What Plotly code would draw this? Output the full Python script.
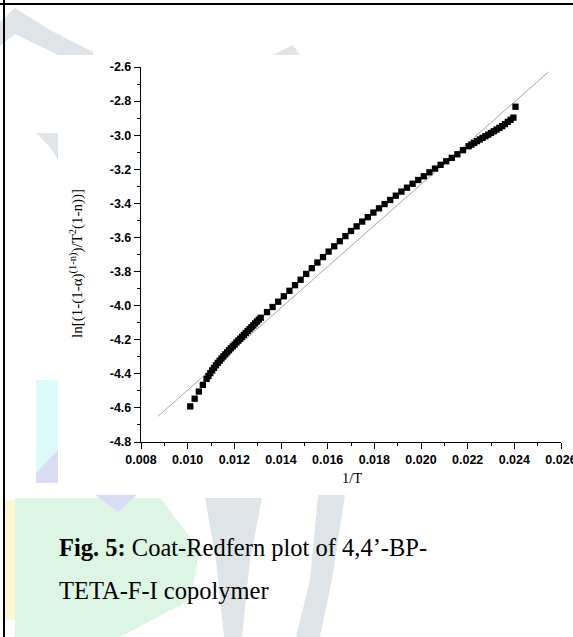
import plotly.graph_objects as go

# ---------------- data ----------------
inv_T = [
    0.01011, 0.01030, 0.01048, 0.01065, 0.01081,
    0.01089, 0.01097, 0.01105, 0.01113, 0.01121, 0.01129, 0.01137, 0.01145,
    0.01153, 0.01161, 0.01169, 0.01177, 0.01185, 0.01193, 0.01201, 0.01209,
    0.01217, 0.01225, 0.01233, 0.01241, 0.01249, 0.01257, 0.01265, 0.01273,
    0.01281, 0.01289, 0.01297, 0.01305, 0.01313,
    0.01340, 0.01364, 0.01388, 0.01412, 0.01436, 0.01460, 0.01484, 0.01508,
    0.01532, 0.01556, 0.01580, 0.01604, 0.01628, 0.01652, 0.01676, 0.01700,
    0.01724, 0.01748, 0.01772, 0.01796, 0.01820, 0.01844, 0.01868, 0.01892,
    0.01916, 0.01940, 0.01964, 0.01988, 0.02012, 0.02036, 0.02060, 0.02084,
    0.02108, 0.02132, 0.02156, 0.02180,
    0.02204, 0.02216, 0.02228, 0.02240, 0.02252, 0.02264, 0.02276, 0.02288,
    0.02300, 0.02312, 0.02324, 0.02336, 0.02348, 0.02360, 0.02372, 0.02384,
    0.02396, 0.02405,
]
ln_term = [
    -4.591, -4.546, -4.504, -4.465, -4.430,
    -4.413, -4.396, -4.380, -4.365, -4.350, -4.336, -4.323, -4.310,
    -4.298, -4.286, -4.274, -4.262, -4.250, -4.239, -4.228, -4.216,
    -4.205, -4.194, -4.183, -4.172, -4.160, -4.149, -4.138, -4.127,
    -4.116, -4.104, -4.093, -4.082, -4.071,
    -4.038, -4.008, -3.977, -3.945, -3.913, -3.880, -3.848, -3.814,
    -3.780, -3.747, -3.715, -3.683, -3.652, -3.622, -3.592, -3.562,
    -3.535, -3.507, -3.481, -3.454, -3.429, -3.404, -3.380, -3.355,
    -3.331, -3.308, -3.285, -3.263, -3.241, -3.218, -3.196, -3.174,
    -3.153, -3.133, -3.112, -3.088,
    -3.065, -3.055, -3.045, -3.035, -3.025, -3.016, -3.006, -2.997,
    -2.987, -2.977, -2.967, -2.957, -2.947, -2.935, -2.922, -2.910,
    -2.897, -2.833,
]
fit_x = [0.00873, 0.02546]
fit_y = [-4.649, -2.629]

x_tick_vals = [0.008, 0.010, 0.012, 0.014, 0.016, 0.018, 0.020, 0.022, 0.024, 0.026]
x_tick_text = ["0.008", "0.010", "0.012", "0.014", "0.016", "0.018", "0.020", "0.022", "0.024", "0.026"]
y_tick_vals = [-4.8, -4.6, -4.4, -4.2, -4.0, -3.8, -3.6, -3.4, -3.2, -3.0, -2.8, -2.6]
y_tick_text = ["-4.8", "-4.6", "-4.4", "-4.2", "-4.0", "-3.8", "-3.6", "-3.4", "-3.2", "-3.0", "-2.8", "-2.6"]

x_title = "1/T"
y_title = "ln[(1-(1-α)<sup>(1-n)</sup>)/T<sup>2</sup>(1-n))]"
caption_1 = "<b>Fig. 5:</b> Coat-Redfern plot of 4,4’-BP-"
caption_2 = "TETA-F-I copolymer"

# ---------------- layout geometry ----------------
W, H = 573, 637
L, R, T, B = 141, 12, 67, 195
PW, PH = W - L - R, H - T - B


def px(xp):
    return (xp - L) / PW


def py(yp):
    return 1 - (yp - T) / PH


def poly(points, color):
    d = "M " + " L ".join(f"{px(a):.5f},{py(b):.5f}" for a, b in points) + " Z"
    return dict(type="path", xref="paper", yref="paper", path=d,
                fillcolor=color, line=dict(width=0), layer="below")


GRAY = "#dfe4e9"
shapes = [
    poly([(0, 22), (15, 8), (50, 30), (93, 52), (93, 55), (58, 55), (15, 34), (0, 46)], GRAY),
    poly([(36, 133), (58, 133), (58, 160), (50, 147)], GRAY),
    poly([(272, 55), (293, 45), (300, 55)], GRAY),
    poly([(36, 380), (58, 380), (58, 483), (36, 483)], "#dcfafa"),
    poly([(36, 473), (58, 450), (58, 483), (36, 483)], "#d9ddf4"),
    poly([(5, 500), (15, 500), (15, 620), (5, 620)], "#fdf8d2"),
    poly([(15, 498), (160, 498), (200, 550), (190, 600), (120, 637), (15, 637)], "#dcf5e5"),
    poly([(95, 495), (137, 495), (118, 512)], "#d8dcf5"),
    poly([(205, 498), (262, 498), (250, 560), (242, 637), (224, 637), (216, 560)], GRAY),
    poly([(318, 495), (345, 495), (332, 580), (320, 637), (296, 637), (310, 580)], GRAY),
    dict(type="line", xref="paper", yref="paper", x0=px(0), x1=px(W), y0=py(4), y1=py(4),
         line=dict(color="black", width=2)),
    dict(type="line", xref="paper", yref="paper", x0=px(4), x1=px(4), y0=py(0), y1=py(H),
         line=dict(color="black", width=2)),
]

fig = go.Figure()
fig.add_trace(go.Scatter(x=fit_x, y=fit_y, mode="lines",
                         line=dict(color="#9a9a9a", width=0.9), hoverinfo="skip"))
fig.add_trace(go.Scatter(x=inv_T, y=ln_term, mode="markers",
                         marker=dict(symbol="square", size=6.3, color="black",
                                     line=dict(width=0))))

axis_font = dict(family="Liberation Sans, Arial", size=12.5, color="black", weight="bold")
fig.update_layout(
    width=W, height=H,
    margin=dict(l=L, r=R, t=T, b=B, pad=0),
    paper_bgcolor="white", plot_bgcolor="rgba(0,0,0,0)",
    showlegend=False,
    shapes=shapes,
    xaxis=dict(range=[0.008, 0.026], showgrid=False, zeroline=False, automargin=False,
               showline=True, linecolor="black", linewidth=1.4,
               tickmode="array", tickvals=x_tick_vals, ticktext=x_tick_text,
               ticks="outside", ticklen=6, tickwidth=1.4, tickcolor="black",
               tickfont=axis_font, ticklabeloverflow="allow",
               minor=dict(tickmode="linear", tick0=0.008, dtick=0.001, ticks="outside",
                          ticklen=3, tickwidth=1.3, tickcolor="black", showgrid=False)),
    yaxis=dict(range=[-4.8, -2.6], showgrid=False, zeroline=False, automargin=False,
               showline=True, linecolor="black", linewidth=1.4,
               tickmode="array", tickvals=y_tick_vals, ticktext=y_tick_text,
               ticks="outside", ticklen=6, tickwidth=1.4, tickcolor="black",
               tickfont=axis_font, ticklabeloverflow="allow",
               minor=dict(tickmode="linear", tick0=-4.8, dtick=0.1, ticks="outside",
                          ticklen=3, tickwidth=1.3, tickcolor="black", showgrid=False)),
    annotations=[
        dict(text=x_title, xref="paper", yref="paper", x=px(352), y=py(478),
             xanchor="center", yanchor="middle", showarrow=False,
             font=dict(family="Liberation Serif, Times New Roman", size=14.5, color="black")),
        dict(text=y_title, xref="paper", yref="paper", x=px(76), y=py(264),
             xanchor="center", yanchor="middle", showarrow=False, textangle=-90,
             font=dict(family="Liberation Serif, Times New Roman", size=15, color="black")),
        dict(text=caption_1, xref="paper", yref="paper", x=px(57), y=py(547),
             xanchor="left", yanchor="middle", showarrow=False,
             font=dict(family="Liberation Serif, Times New Roman", size=24.5, color="black")),
        dict(text=caption_2, xref="paper", yref="paper", x=px(57), y=py(590),
             xanchor="left", yanchor="middle", showarrow=False,
             font=dict(family="Liberation Serif, Times New Roman", size=24.5, color="black")),
    ],
)

fig.write_html("out.html")
